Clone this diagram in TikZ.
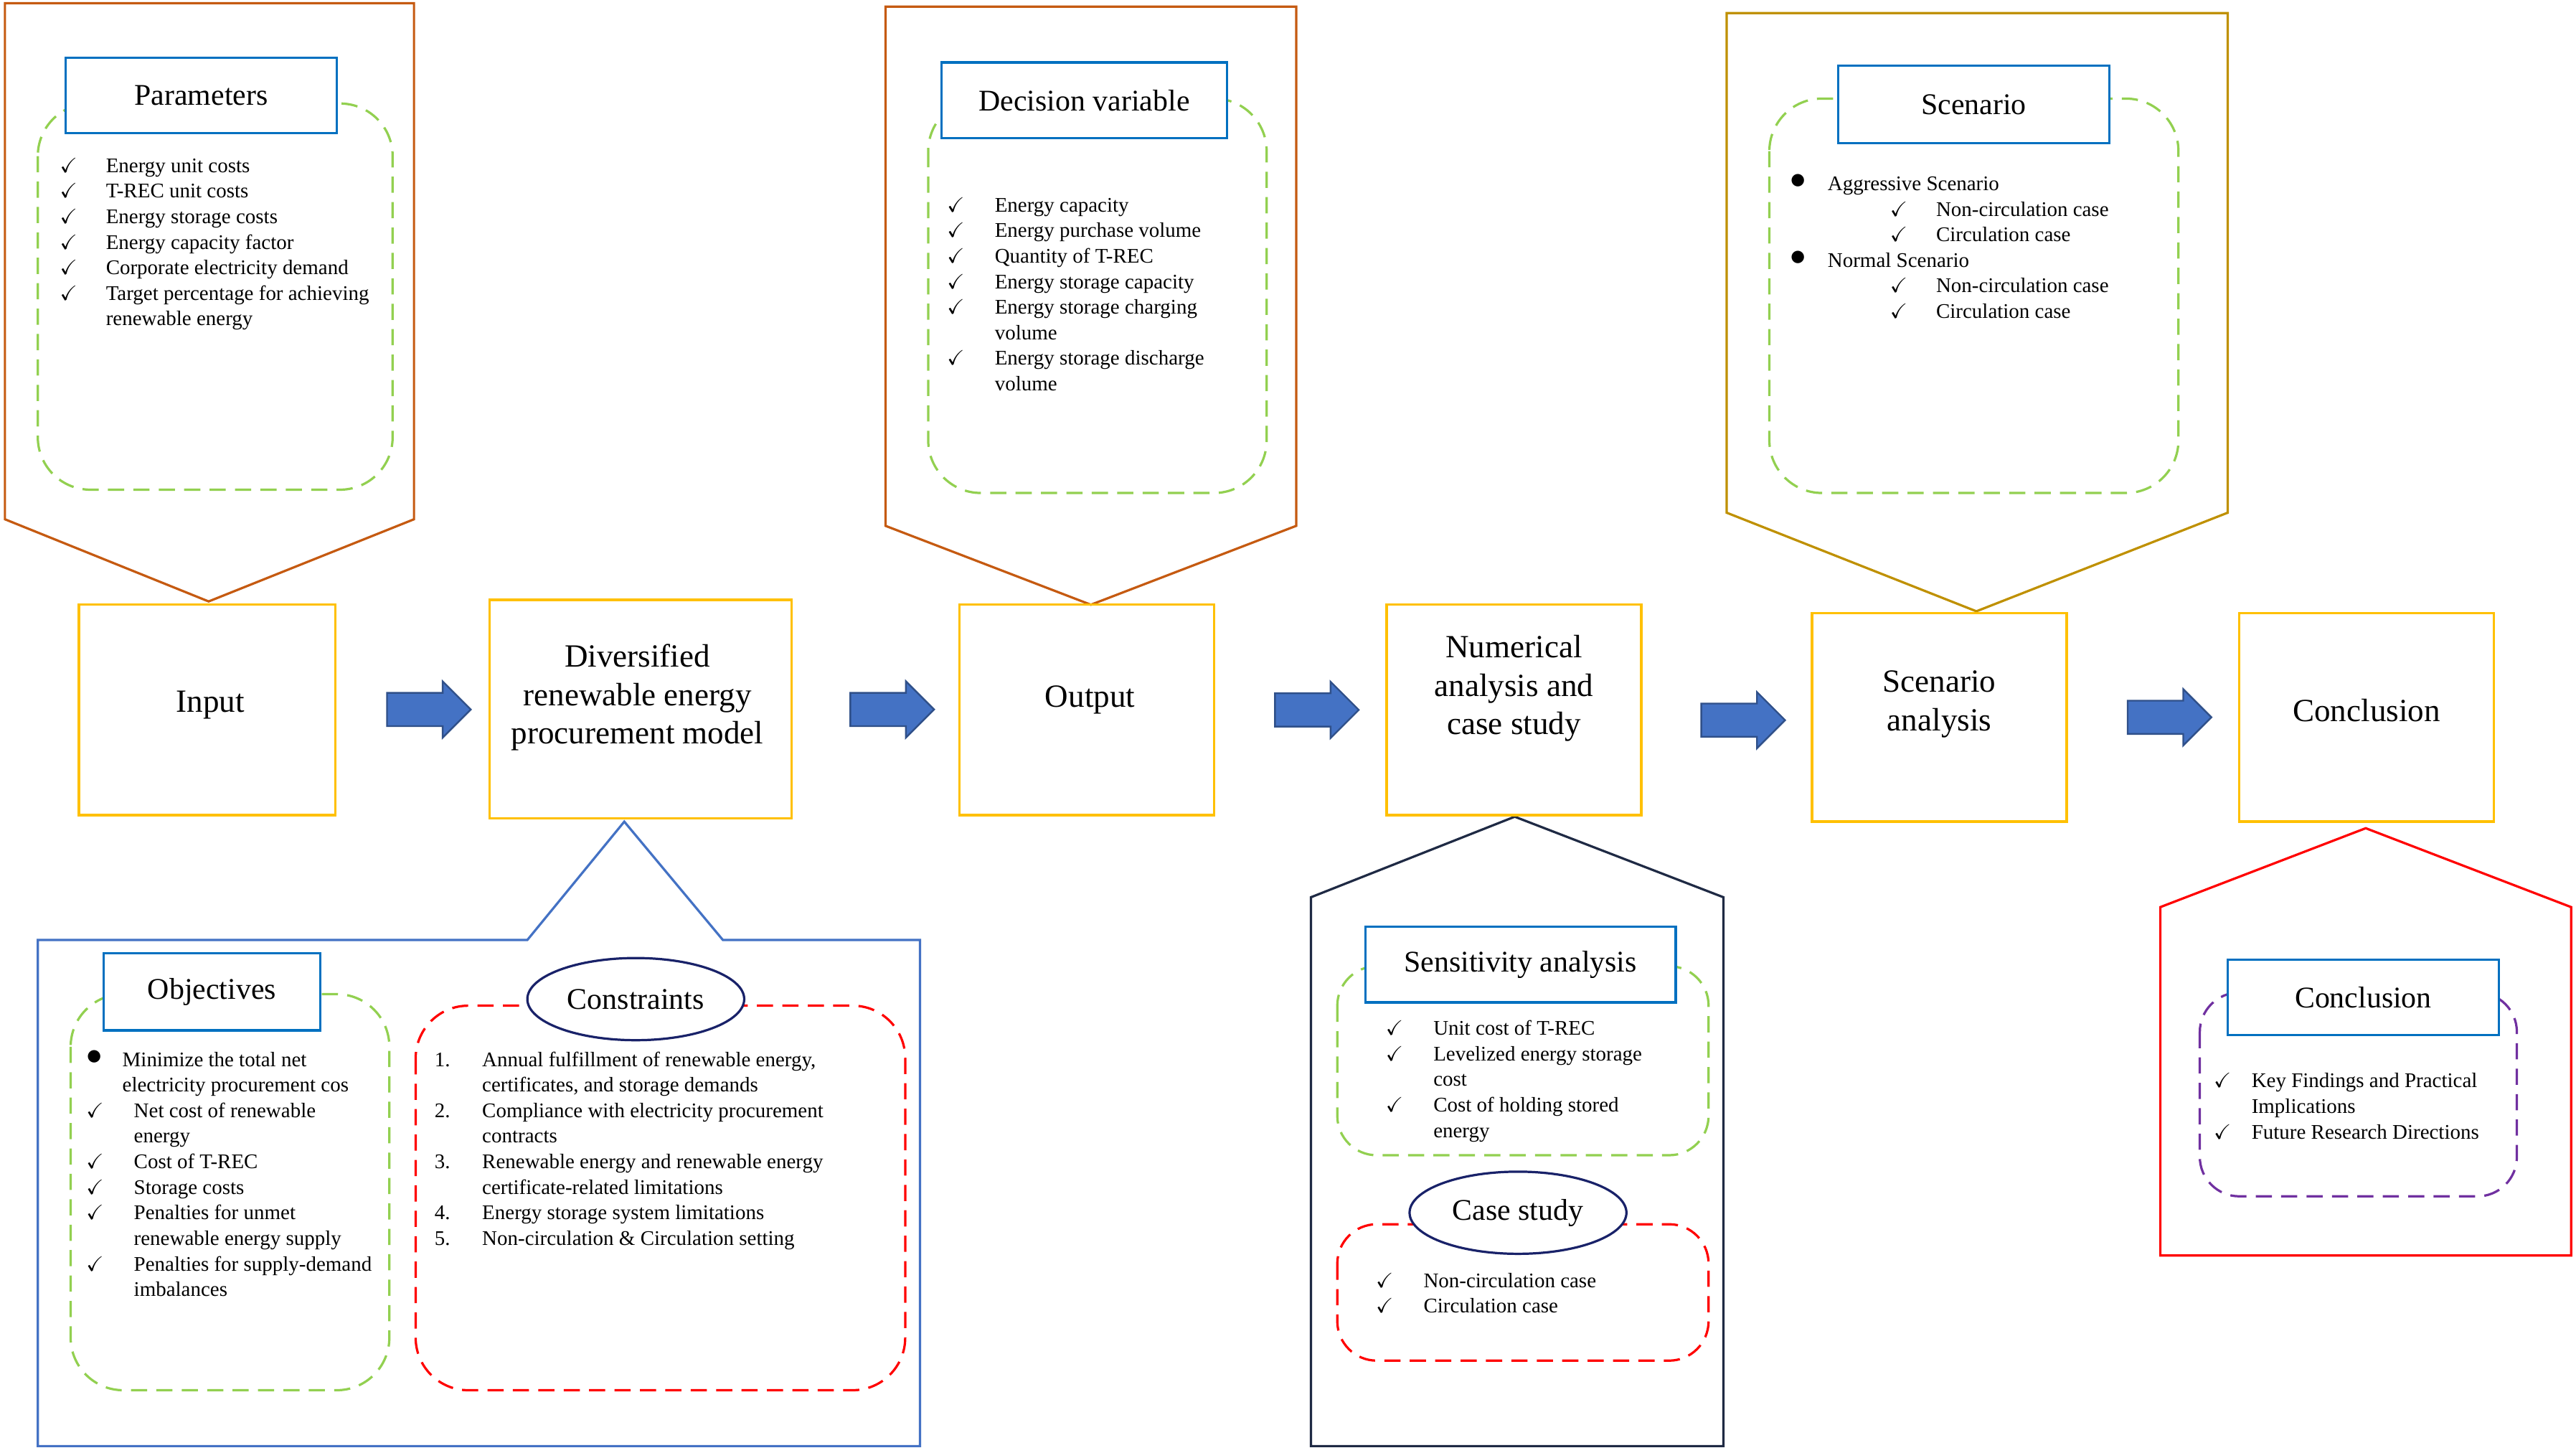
\documentclass[tikz,border=0pt]{standalone}
\usepackage{fontspec}
\usepackage{amssymb}
\setmainfont{Liberation Serif}
\usetikzlibrary{shapes.arrows,shapes.geometric,calc}
\newcommand{\ck}{$\checkmark$}
\newcommand{\bul}{\raisebox{0.2ex}{\scalebox{1.5}{$\bullet$}}}
\newcommand{\smalltxt}{\fontsize{9}{11.06}\selectfont}
\definecolor{boxyellow}{RGB}{255,192,0}
\definecolor{calloutorange}{RGB}{197,90,17}
\definecolor{calloutgold}{RGB}{191,144,0}
\definecolor{titleblue}{RGB}{0,112,192}
\definecolor{dashgreen}{RGB}{146,208,80}
\definecolor{arrowblue}{RGB}{68,114,196}
\definecolor{navy}{RGB}{31,42,68}
\definecolor{dashpurple}{RGB}{112,48,160}
\tikzset{every picture/.style={line width=0.75pt}}

\begin{document}
\begin{tikzpicture}[x=0.25mm,y=-0.25mm,
  stage/.style={draw=boxyellow,line width=1pt},
  stagetxt/.style={align=center,font=\fontsize{14}{16.6}\selectfont},
  flow/.style={single arrow,draw=arrowblue!70!black,fill=arrowblue,inner xsep=0pt,inner ysep=2.4mm,
    single arrow head extend=1.75mm,minimum height=12.75mm,xshift=1.25mm},
  title/.style={draw=titleblue,fill=white,line width=1pt,font=\fontsize{13}{16}\selectfont},
  dashbox/.style={dashed,dash pattern=on 7pt off 4pt,rounded corners=8mm,line width=1pt},
  oval/.style={ellipse,draw=navy!80!blue,fill=white,line width=1pt,minimum width=33mm,
    minimum height=12.5mm,inner sep=0pt,font=\fontsize{13}{16}\selectfont},
  list/.style={anchor=north west,inner sep=0pt,align=left,font=\smalltxt}]
\useasboundingbox (0,0) rectangle (1568,884);

% callouts
\draw[calloutorange,line width=1pt] (3,2) -- (252,2) -- (252,316) -- (127,366) -- (3,316) -- cycle;
\draw[calloutorange,line width=1pt] (539,4) -- (789,4) -- (789,320) -- (664,368) -- (539,320) -- cycle;
\draw[calloutgold,line width=1pt] (1051,8) -- (1356,8) -- (1356,312) -- (1203,372) -- (1051,312) -- cycle;
\draw[arrowblue,line width=1pt] (23,572) -- (321,572) -- (380,500) -- (440,572) -- (560,572) -- (560,880) -- (23,880) -- cycle;
\draw[navy,line width=1pt] (798,546) -- (922,497) -- (1049,546) -- (1049,880) -- (798,880) -- cycle;
\draw[red,line width=1pt] (1315,552) -- (1440,504) -- (1565,552) -- (1565,764) -- (1315,764) -- cycle;

% dashed panels
\draw[dashbox,dashgreen] (23,63) rectangle (239,298);
\draw[dashbox,dashgreen] (565,60) rectangle (771,300);
\draw[dashbox,dashgreen] (1077,60) rectangle (1326,300);
\draw[dashbox,dashgreen] (43,605) rectangle (237,846);
\draw[dashbox,red] (253,612) rectangle (551,846);
\draw[dashbox,dashgreen,rounded corners=6mm] (814,588) rectangle (1040,703);
\draw[dashbox,red,rounded corners=6mm] (814,745) rectangle (1040,828);
\draw[dashbox,dashpurple,rounded corners=6mm] (1339,604) rectangle (1532,728);

% stages
\node[stage,minimum width=39mm,minimum height=32mm] (input) at (126,432) {};
\node[stage,minimum width=46mm,minimum height=33.25mm] (model) at (390,431.5) {};
\node[stage,minimum width=38.75mm,minimum height=32mm] (output) at (661.5,432) {};
\node[stage,minimum width=38.75mm,minimum height=32mm] (numeric) at (921.5,432) {};
\node[stage,minimum width=38.75mm,minimum height=31.75mm] (scenario) at (1180.5,436.5) {};
\node[stage,minimum width=38.75mm,minimum height=31.75mm] (conclusion) at (1440.5,436.5) {};
\node[stagetxt] (inputtxt) at ($(input)+(2,-3)$) {Input};
\node[stagetxt] (modeltxt) at ($(model)+(-2,-7)$) {Diversified\\renewable energy\\procurement model};
\node[stagetxt] (outputtxt) at ($(output)+(2,-6)$) {Output};
\node[stagetxt] (numerictxt) at ($(numeric)+(0,-13)$) {Numerical\\analysis and\\case study};
\node[stagetxt] (scenariotxt) at ($(scenario)+(0,-8)$) {Scenario\\analysis};
\node[stagetxt] (conclusiontxt) at ($(conclusion)+(0,-4)$) {Conclusion};

% flow arrows
\node[flow] (f1) at ($(input.east)!0.5!(model.west)$) {};
\node[flow] (f2) at ($(model.east)!0.5!(output.west)$) {};
\node[flow] (f3) at ($(output.east)!0.5!(numeric.west)$) {};
\node[flow] (f4) at ($(numeric.east)!0.5!(scenario.west)+(0,4)$) {};
\node[flow] (f5) at ($(scenario.east)!0.5!(conclusion.west)$) {};

% titles
\node[title,minimum width=41.25mm,minimum height=11.5mm] (params) at (122.5,58) {Parameters};
\node[title,minimum width=43.5mm,minimum height=11.5mm] (decision) at (660,61) {Decision variable};
\node[title,minimum width=41.25mm,minimum height=11.75mm] (scen) at (1201.5,63.5) {Scenario};
\node[title,minimum width=33mm,minimum height=11.75mm] (objectives) at (129,603.5) {Objectives};
\node[oval] (constraints) at (387,608) {Constraints};
\node[title,minimum width=47.25mm,minimum height=11.5mm] (sensitivity) at (925.5,587) {Sensitivity analysis};
\node[oval] (casestudy) at (924,738) {Case study};
\node[title,minimum width=41.25mm,minimum height=11.5mm] (concl) at (1438.5,607) {Conclusion};

% lists
\node[list] (paramlist) at (36,93.5) {\begin{tabular}{@{}p{7mm}@{}l@{}}
\ck & Energy unit costs\\ \ck & T-REC unit costs\\ \ck & Energy storage costs\\
\ck & Energy capacity factor\\ \ck & Corporate electricity demand\\
\ck & Target percentage for achieving\\ & renewable energy\end{tabular}};
\node[list] (decisionlist) at (576,117.5) {\begin{tabular}{@{}p{7.25mm}@{}l@{}}
\ck & Energy capacity\\ \ck & Energy purchase volume\\ \ck & Quantity of T-REC\\
\ck & Energy storage capacity\\ \ck & Energy storage charging\\ & volume\\
\ck & Energy storage discharge\\ & volume\end{tabular}};
\node[list] (scenlist) at (1089,104.5) {\begin{tabular}{@{}p{5.75mm}@{}p{9.5mm}@{}p{7mm}@{}l@{}}
\bul & \multicolumn{3}{@{}l@{}}{Aggressive Scenario}\\
 & & \ck & Non-circulation case\\ & & \ck & Circulation case\\
\bul & \multicolumn{3}{@{}l@{}}{Normal Scenario}\\
 & & \ck & Non-circulation case\\ & & \ck & Circulation case\end{tabular}};
\node[list] (objlist) at (52,637.5) {\begin{tabular}{@{}p{5.5mm}@{}p{1.75mm}@{}l@{}}
\bul & \multicolumn{2}{@{}l@{}}{Minimize the total net}\\
 & \multicolumn{2}{@{}l@{}}{electricity procurement cos}\\
\ck & & Net cost of renewable\\ & & energy\\ \ck & & Cost of T-REC\\
\ck & & Storage costs\\ \ck & & Penalties for unmet\\ & & renewable energy supply\\
\ck & & Penalties for supply-demand\\ & & imbalances\end{tabular}};
\node[list] (conslist) at (264,637.5) {\begin{tabular}{@{}p{7.25mm}@{}l@{}}
1. & Annual fulfillment of renewable energy,\\ & certificates, and storage demands\\
2. & Compliance with electricity procurement\\ & contracts\\
3. & Renewable energy and renewable energy\\ & certificate-related limitations\\
4. & Energy storage system limitations\\ 5. & Non-circulation \& Circulation setting\end{tabular}};
\node[list] (senslist) at (843,618.5) {\begin{tabular}{@{}p{7.25mm}@{}l@{}}
\ck & Unit cost of T-REC\\ \ck & Levelized energy storage\\ & cost\\
\ck & Cost of holding stored\\ & energy\end{tabular}};
\node[list] (caselist) at (837,772) {\begin{tabular}{@{}p{7.25mm}@{}l@{}}
\ck & Non-circulation case\\ \ck & Circulation case\end{tabular}};
\node[list] (concllist) at (1347,650.5) {\begin{tabular}{@{}p{5.75mm}@{}l@{}}
\ck & Key Findings and Practical\\ & Implications\\ \ck & Future Research Directions\end{tabular}};
\end{tikzpicture}
\end{document}
